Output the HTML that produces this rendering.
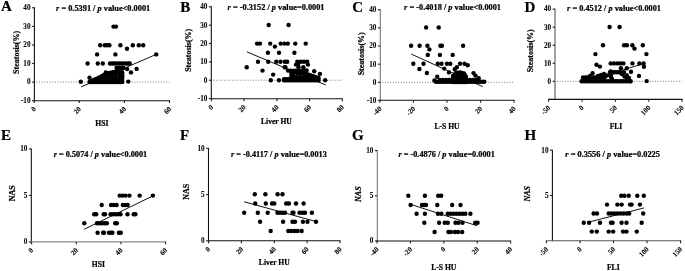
<!DOCTYPE html>
<html><head><meta charset="utf-8"><style>
html,body{margin:0;padding:0;background:#fff;width:685px;height:271px;overflow:hidden}
svg{display:block;will-change:transform;filter:blur(0.3px)}
text{font-family:"Liberation Serif", serif;fill:#000;stroke:#000;stroke-width:0.22px}
.tk{fill:#000;stroke-width:0.08px}
.ax{stroke:#222;stroke-width:1.1}
.axg{stroke:#888;stroke-width:1.1}
.dot{stroke:#777;stroke-width:1;stroke-dasharray:1 1.65}
.rl{stroke:#111;stroke-width:1}
circle{fill:#000}
</style></head><body>
<svg width="685" height="271" viewBox="0 0 685 271">
<text x="1.0" y="11.2" font-size="15.0" font-weight="bold">A</text>
<line x1="34.4" y1="7.3" x2="34.4" y2="101.2" stroke="#111" stroke-width="1.1"/>
<line x1="32.0" y1="100.7" x2="34.4" y2="100.7" stroke="#222" stroke-width="1.1"/>
<text x="30.5" y="103.0" font-size="7.2" text-anchor="end" font-weight="bold" class="tk">-10</text>
<line x1="32.0" y1="82.1" x2="34.4" y2="82.1" stroke="#222" stroke-width="1.1"/>
<text x="30.5" y="84.4" font-size="7.2" text-anchor="end" font-weight="bold" class="tk">0</text>
<line x1="32.0" y1="63.5" x2="34.4" y2="63.5" stroke="#222" stroke-width="1.1"/>
<text x="30.5" y="65.8" font-size="7.2" text-anchor="end" font-weight="bold" class="tk">10</text>
<line x1="32.0" y1="45.0" x2="34.4" y2="45.0" stroke="#222" stroke-width="1.1"/>
<text x="30.5" y="47.3" font-size="7.2" text-anchor="end" font-weight="bold" class="tk">20</text>
<line x1="32.0" y1="26.4" x2="34.4" y2="26.4" stroke="#222" stroke-width="1.1"/>
<text x="30.5" y="28.7" font-size="7.2" text-anchor="end" font-weight="bold" class="tk">30</text>
<line x1="32.0" y1="7.8" x2="34.4" y2="7.8" stroke="#222" stroke-width="1.1"/>
<text x="30.5" y="10.1" font-size="7.2" text-anchor="end" font-weight="bold" class="tk">40</text>
<line x1="33.7" y1="100.7" x2="170.0" y2="100.7" stroke="#111" stroke-width="1.1"/>
<line x1="34.2" y1="100.7" x2="34.2" y2="103.1" class="ax"/>
<text transform="translate(36.5,109.5) rotate(-45)" font-size="7.2" text-anchor="end" font-weight="bold" class="tk">0</text>
<line x1="79.3" y1="100.7" x2="79.3" y2="103.1" class="ax"/>
<text transform="translate(81.6,109.5) rotate(-45)" font-size="7.2" text-anchor="end" font-weight="bold" class="tk">20</text>
<line x1="124.4" y1="100.7" x2="124.4" y2="103.1" class="ax"/>
<text transform="translate(126.7,109.5) rotate(-45)" font-size="7.2" text-anchor="end" font-weight="bold" class="tk">40</text>
<line x1="169.5" y1="100.7" x2="169.5" y2="103.1" class="ax"/>
<text transform="translate(171.8,109.5) rotate(-45)" font-size="7.2" text-anchor="end" font-weight="bold" class="tk">60</text>
<line x1="36.4" y1="82.1" x2="169.5" y2="82.1" class="dot"/>
<text x="56.1" y="10.5" font-size="7.4" font-weight="bold" textLength="94.1" lengthAdjust="spacingAndGlyphs"><tspan font-style="italic">r</tspan> = 0.5391 / <tspan font-style="italic">p</tspan> value&lt;0.0001</text>
<text x="101.8" y="125.7" font-size="7.6" font-weight="bold" text-anchor="middle">HSI</text>
<text transform="translate(18.9,52.4) rotate(-90)" font-size="8.0" font-weight="bold" text-anchor="middle">Steatosis(%)</text>
<line x1="81.1" y1="86.9" x2="156.2" y2="54.4" class="rl"/>
<circle cx="113.5" cy="26.6" r="2.2"/>
<circle cx="116.0" cy="26.6" r="2.2"/>
<circle cx="100.2" cy="45.2" r="2.2"/>
<circle cx="104.7" cy="45.2" r="2.2"/>
<circle cx="107.0" cy="45.2" r="2.2"/>
<circle cx="109.4" cy="45.2" r="2.2"/>
<circle cx="120.4" cy="45.2" r="2.2"/>
<circle cx="132.8" cy="45.2" r="2.2"/>
<circle cx="138.8" cy="45.2" r="2.2"/>
<circle cx="143.2" cy="45.2" r="2.2"/>
<circle cx="127.0" cy="48.7" r="2.2"/>
<circle cx="97.1" cy="54.4" r="2.2"/>
<circle cx="115.4" cy="54.4" r="2.2"/>
<circle cx="156.2" cy="54.4" r="2.2"/>
<circle cx="87.6" cy="63.5" r="2.2"/>
<circle cx="97.8" cy="63.5" r="2.2"/>
<circle cx="102.8" cy="63.5" r="2.2"/>
<circle cx="110.0" cy="63.5" r="2.2"/>
<circle cx="112.3" cy="63.5" r="2.2"/>
<circle cx="114.6" cy="63.5" r="2.2"/>
<circle cx="116.9" cy="63.5" r="2.2"/>
<circle cx="119.2" cy="63.5" r="2.2"/>
<circle cx="121.5" cy="63.5" r="2.2"/>
<circle cx="123.8" cy="63.5" r="2.2"/>
<circle cx="126.1" cy="63.5" r="2.2"/>
<circle cx="128.4" cy="63.5" r="2.2"/>
<circle cx="129.7" cy="63.5" r="2.2"/>
<circle cx="127.2" cy="69.1" r="2.2"/>
<circle cx="136.6" cy="68.9" r="2.2"/>
<circle cx="131.0" cy="72.4" r="2.2"/>
<circle cx="105.8" cy="72.4" r="2.2"/>
<circle cx="89.5" cy="77.8" r="2.2"/>
<circle cx="80.8" cy="81.8" r="2.2"/>
<circle cx="128.3" cy="81.6" r="2.2"/>
<circle cx="115.7" cy="71.9" r="2.2"/>
<circle cx="119.4" cy="71.8" r="2.2"/>
<circle cx="106.0" cy="75.4" r="2.2"/>
<circle cx="108.8" cy="75.6" r="2.2"/>
<circle cx="112.0" cy="75.5" r="2.2"/>
<circle cx="115.4" cy="75.1" r="2.2"/>
<circle cx="119.1" cy="76.0" r="2.2"/>
<circle cx="98.9" cy="78.6" r="2.2"/>
<circle cx="102.9" cy="79.4" r="2.2"/>
<circle cx="106.1" cy="78.8" r="2.2"/>
<circle cx="109.9" cy="78.4" r="2.2"/>
<circle cx="113.0" cy="78.6" r="2.2"/>
<circle cx="115.5" cy="78.4" r="2.2"/>
<circle cx="119.0" cy="79.3" r="2.2"/>
<circle cx="89.5" cy="82.0" r="2.2"/>
<circle cx="91.3" cy="81.2" r="2.2"/>
<circle cx="93.2" cy="80.3" r="2.2"/>
<circle cx="95.0" cy="79.5" r="2.2"/>
<circle cx="96.8" cy="78.7" r="2.2"/>
<circle cx="98.7" cy="77.8" r="2.2"/>
<circle cx="100.5" cy="77.0" r="2.2"/>
<circle cx="102.5" cy="75.8" r="2.2"/>
<circle cx="104.5" cy="74.7" r="2.2"/>
<circle cx="106.5" cy="73.5" r="2.2"/>
<circle cx="108.7" cy="73.1" r="2.2"/>
<circle cx="110.8" cy="72.7" r="2.2"/>
<circle cx="113.0" cy="72.3" r="2.2"/>
<circle cx="114.8" cy="72.3" r="2.2"/>
<circle cx="116.7" cy="72.3" r="2.2"/>
<circle cx="118.5" cy="72.3" r="2.2"/>
<circle cx="120.4" cy="72.3" r="2.2"/>
<circle cx="122.2" cy="72.3" r="2.2"/>
<circle cx="122.2" cy="74.2" r="2.2"/>
<circle cx="122.2" cy="76.2" r="2.2"/>
<circle cx="122.2" cy="78.1" r="2.2"/>
<circle cx="122.2" cy="80.1" r="2.2"/>
<circle cx="122.2" cy="82.0" r="2.2"/>
<circle cx="120.4" cy="82.0" r="2.2"/>
<circle cx="118.6" cy="82.0" r="2.2"/>
<circle cx="116.8" cy="82.0" r="2.2"/>
<circle cx="114.9" cy="82.0" r="2.2"/>
<circle cx="113.1" cy="82.0" r="2.2"/>
<circle cx="111.3" cy="82.0" r="2.2"/>
<circle cx="109.5" cy="82.0" r="2.2"/>
<circle cx="107.7" cy="82.0" r="2.2"/>
<circle cx="105.8" cy="82.0" r="2.2"/>
<circle cx="104.0" cy="82.0" r="2.2"/>
<circle cx="102.2" cy="82.0" r="2.2"/>
<circle cx="100.4" cy="82.0" r="2.2"/>
<circle cx="98.6" cy="82.0" r="2.2"/>
<circle cx="96.8" cy="82.0" r="2.2"/>
<circle cx="95.0" cy="82.0" r="2.2"/>
<circle cx="93.1" cy="82.0" r="2.2"/>
<circle cx="91.3" cy="82.0" r="2.2"/>
<circle cx="116.5" cy="68.0" r="2.2"/>
<circle cx="118.8" cy="68.0" r="2.2"/>
<circle cx="121.1" cy="68.0" r="2.2"/>
<circle cx="123.4" cy="68.0" r="2.2"/>
<text x="180.2" y="11.8" font-size="15.0" font-weight="bold">B</text>
<line x1="211.3" y1="6.3" x2="211.3" y2="99.3" stroke="#111" stroke-width="1.1"/>
<line x1="208.9" y1="98.6" x2="211.3" y2="98.6" stroke="#222" stroke-width="1.1"/>
<text x="207.4" y="100.9" font-size="7.2" text-anchor="end" font-weight="bold" class="tk">-10</text>
<line x1="208.9" y1="80.2" x2="211.3" y2="80.2" stroke="#222" stroke-width="1.1"/>
<text x="207.4" y="82.5" font-size="7.2" text-anchor="end" font-weight="bold" class="tk">0</text>
<line x1="208.9" y1="61.9" x2="211.3" y2="61.9" stroke="#222" stroke-width="1.1"/>
<text x="207.4" y="64.2" font-size="7.2" text-anchor="end" font-weight="bold" class="tk">10</text>
<line x1="208.9" y1="43.5" x2="211.3" y2="43.5" stroke="#222" stroke-width="1.1"/>
<text x="207.4" y="45.8" font-size="7.2" text-anchor="end" font-weight="bold" class="tk">20</text>
<line x1="208.9" y1="25.2" x2="211.3" y2="25.2" stroke="#222" stroke-width="1.1"/>
<text x="207.4" y="27.5" font-size="7.2" text-anchor="end" font-weight="bold" class="tk">30</text>
<line x1="208.9" y1="6.8" x2="211.3" y2="6.8" stroke="#222" stroke-width="1.1"/>
<text x="207.4" y="9.1" font-size="7.2" text-anchor="end" font-weight="bold" class="tk">40</text>
<line x1="210.8" y1="98.8" x2="342.8" y2="98.8" stroke="#111" stroke-width="1.1"/>
<line x1="211.4" y1="98.8" x2="211.4" y2="101.2" class="ax"/>
<text transform="translate(213.7,107.6) rotate(-45)" font-size="7.2" text-anchor="end" font-weight="bold" class="tk">0</text>
<line x1="244.1" y1="98.8" x2="244.1" y2="101.2" class="ax"/>
<text transform="translate(246.4,107.6) rotate(-45)" font-size="7.2" text-anchor="end" font-weight="bold" class="tk">20</text>
<line x1="276.9" y1="98.8" x2="276.9" y2="101.2" class="ax"/>
<text transform="translate(279.2,107.6) rotate(-45)" font-size="7.2" text-anchor="end" font-weight="bold" class="tk">40</text>
<line x1="309.6" y1="98.8" x2="309.6" y2="101.2" class="ax"/>
<text transform="translate(311.9,107.6) rotate(-45)" font-size="7.2" text-anchor="end" font-weight="bold" class="tk">60</text>
<line x1="342.3" y1="98.8" x2="342.3" y2="101.2" class="ax"/>
<text transform="translate(344.6,107.6) rotate(-45)" font-size="7.2" text-anchor="end" font-weight="bold" class="tk">80</text>
<line x1="213.3" y1="80.2" x2="342.3" y2="80.2" class="dot"/>
<text x="227.6" y="10.4" font-size="7.4" font-weight="bold" textLength="96.9" lengthAdjust="spacingAndGlyphs"><tspan font-style="italic">r</tspan> = -0.3152 / <tspan font-style="italic">p</tspan> value=0.0001</text>
<text x="276.4" y="123.5" font-size="7.6" font-weight="bold" text-anchor="middle">Liver HU</text>
<text transform="translate(191.1,50.3) rotate(-90)" font-size="8.0" font-weight="bold" text-anchor="middle">Steatosis(%)</text>
<line x1="246.9" y1="51.9" x2="325.8" y2="85.0" class="rl"/>
<circle cx="268.7" cy="25.0" r="2.2"/>
<circle cx="288.6" cy="25.0" r="2.2"/>
<circle cx="257.1" cy="43.6" r="2.2"/>
<circle cx="259.9" cy="43.6" r="2.2"/>
<circle cx="270.2" cy="43.6" r="2.2"/>
<circle cx="280.7" cy="43.6" r="2.2"/>
<circle cx="284.5" cy="43.6" r="2.2"/>
<circle cx="287.8" cy="43.6" r="2.2"/>
<circle cx="295.3" cy="43.6" r="2.2"/>
<circle cx="305.7" cy="43.6" r="2.2"/>
<circle cx="274.9" cy="46.6" r="2.2"/>
<circle cx="267.9" cy="52.7" r="2.2"/>
<circle cx="279.0" cy="52.7" r="2.2"/>
<circle cx="294.4" cy="52.7" r="2.2"/>
<circle cx="258.0" cy="61.8" r="2.2"/>
<circle cx="268.2" cy="61.8" r="2.2"/>
<circle cx="276.3" cy="61.8" r="2.2"/>
<circle cx="280.5" cy="61.8" r="2.2"/>
<circle cx="284.9" cy="61.8" r="2.2"/>
<circle cx="287.2" cy="61.8" r="2.2"/>
<circle cx="297.3" cy="61.8" r="2.2"/>
<circle cx="300.8" cy="61.8" r="2.2"/>
<circle cx="304.0" cy="61.8" r="2.2"/>
<circle cx="307.2" cy="61.8" r="2.2"/>
<circle cx="296.0" cy="64.6" r="2.2"/>
<circle cx="298.0" cy="64.6" r="2.2"/>
<circle cx="307.9" cy="64.6" r="2.2"/>
<circle cx="246.7" cy="67.2" r="2.2"/>
<circle cx="285.4" cy="67.2" r="2.2"/>
<circle cx="284.7" cy="67.3" r="2.2"/>
<circle cx="298.6" cy="67.3" r="2.2"/>
<circle cx="303.3" cy="67.3" r="2.2"/>
<circle cx="262.5" cy="70.6" r="2.2"/>
<circle cx="288.0" cy="70.6" r="2.2"/>
<circle cx="290.5" cy="70.6" r="2.2"/>
<circle cx="293.5" cy="70.6" r="2.2"/>
<circle cx="296.0" cy="70.6" r="2.2"/>
<circle cx="273.2" cy="74.6" r="2.2"/>
<circle cx="314.2" cy="71.3" r="2.2"/>
<circle cx="319.9" cy="73.9" r="2.2"/>
<circle cx="270.8" cy="80.2" r="2.2"/>
<circle cx="278.9" cy="80.2" r="2.2"/>
<circle cx="325.2" cy="80.2" r="2.2"/>
<circle cx="293.5" cy="73.9" r="2.2"/>
<circle cx="297.4" cy="73.6" r="2.2"/>
<circle cx="300.6" cy="73.3" r="2.2"/>
<circle cx="303.3" cy="73.4" r="2.2"/>
<circle cx="294.1" cy="77.0" r="2.2"/>
<circle cx="297.0" cy="77.2" r="2.2"/>
<circle cx="300.4" cy="76.9" r="2.2"/>
<circle cx="304.2" cy="77.3" r="2.2"/>
<circle cx="306.8" cy="77.2" r="2.2"/>
<circle cx="310.4" cy="77.6" r="2.2"/>
<circle cx="314.0" cy="76.8" r="2.2"/>
<circle cx="284.0" cy="80.2" r="2.2"/>
<circle cx="284.0" cy="79.3" r="2.2"/>
<circle cx="285.9" cy="79.3" r="2.2"/>
<circle cx="287.8" cy="79.3" r="2.2"/>
<circle cx="289.6" cy="79.3" r="2.2"/>
<circle cx="291.5" cy="79.3" r="2.2"/>
<circle cx="291.5" cy="77.5" r="2.2"/>
<circle cx="291.5" cy="75.7" r="2.2"/>
<circle cx="291.5" cy="73.8" r="2.2"/>
<circle cx="291.5" cy="72.0" r="2.2"/>
<circle cx="293.4" cy="71.8" r="2.2"/>
<circle cx="295.3" cy="71.6" r="2.2"/>
<circle cx="297.2" cy="71.4" r="2.2"/>
<circle cx="299.1" cy="71.2" r="2.2"/>
<circle cx="300.9" cy="71.1" r="2.2"/>
<circle cx="302.8" cy="70.9" r="2.2"/>
<circle cx="304.7" cy="70.7" r="2.2"/>
<circle cx="306.6" cy="70.5" r="2.2"/>
<circle cx="306.6" cy="74.0" r="2.2"/>
<circle cx="308.4" cy="74.7" r="2.2"/>
<circle cx="310.2" cy="75.3" r="2.2"/>
<circle cx="312.0" cy="76.0" r="2.2"/>
<circle cx="314.2" cy="76.7" r="2.2"/>
<circle cx="316.4" cy="77.3" r="2.2"/>
<circle cx="318.6" cy="78.0" r="2.2"/>
<circle cx="318.6" cy="80.2" r="2.2"/>
<circle cx="316.8" cy="80.2" r="2.2"/>
<circle cx="315.0" cy="80.2" r="2.2"/>
<circle cx="313.1" cy="80.2" r="2.2"/>
<circle cx="311.3" cy="80.2" r="2.2"/>
<circle cx="309.5" cy="80.2" r="2.2"/>
<circle cx="307.7" cy="80.2" r="2.2"/>
<circle cx="305.9" cy="80.2" r="2.2"/>
<circle cx="304.0" cy="80.2" r="2.2"/>
<circle cx="302.2" cy="80.2" r="2.2"/>
<circle cx="300.4" cy="80.2" r="2.2"/>
<circle cx="298.6" cy="80.2" r="2.2"/>
<circle cx="296.7" cy="80.2" r="2.2"/>
<circle cx="294.9" cy="80.2" r="2.2"/>
<circle cx="293.1" cy="80.2" r="2.2"/>
<circle cx="291.3" cy="80.2" r="2.2"/>
<circle cx="289.5" cy="80.2" r="2.2"/>
<circle cx="287.6" cy="80.2" r="2.2"/>
<circle cx="285.8" cy="80.2" r="2.2"/>
<text x="352.2" y="11.6" font-size="15.0" font-weight="bold">C</text>
<line x1="380.3" y1="9.3" x2="380.3" y2="100.8" stroke="#777" stroke-width="1.1"/>
<line x1="377.9" y1="100.4" x2="380.3" y2="100.4" stroke="#222" stroke-width="1.1"/>
<text x="376.4" y="102.7" font-size="7.2" text-anchor="end" font-weight="bold" class="tk">-10</text>
<line x1="377.9" y1="82.3" x2="380.3" y2="82.3" stroke="#222" stroke-width="1.1"/>
<text x="376.4" y="84.6" font-size="7.2" text-anchor="end" font-weight="bold" class="tk">0</text>
<line x1="377.9" y1="64.2" x2="380.3" y2="64.2" stroke="#222" stroke-width="1.1"/>
<text x="376.4" y="66.5" font-size="7.2" text-anchor="end" font-weight="bold" class="tk">10</text>
<line x1="377.9" y1="46.0" x2="380.3" y2="46.0" stroke="#222" stroke-width="1.1"/>
<text x="376.4" y="48.3" font-size="7.2" text-anchor="end" font-weight="bold" class="tk">20</text>
<line x1="377.9" y1="27.9" x2="380.3" y2="27.9" stroke="#222" stroke-width="1.1"/>
<text x="376.4" y="30.2" font-size="7.2" text-anchor="end" font-weight="bold" class="tk">30</text>
<line x1="377.9" y1="9.8" x2="380.3" y2="9.8" stroke="#222" stroke-width="1.1"/>
<text x="376.4" y="12.1" font-size="7.2" text-anchor="end" font-weight="bold" class="tk">40</text>
<line x1="379.4" y1="100.3" x2="514.6" y2="100.3" stroke="#111" stroke-width="1.1"/>
<line x1="379.9" y1="100.3" x2="379.9" y2="102.7" class="ax"/>
<text transform="translate(382.2,109.1) rotate(-45)" font-size="7.2" text-anchor="end" font-weight="bold" class="tk">-40</text>
<line x1="413.4" y1="100.3" x2="413.4" y2="102.7" class="ax"/>
<text transform="translate(415.8,109.1) rotate(-45)" font-size="7.2" text-anchor="end" font-weight="bold" class="tk">-20</text>
<line x1="447.0" y1="100.3" x2="447.0" y2="102.7" class="ax"/>
<text transform="translate(449.3,109.1) rotate(-45)" font-size="7.2" text-anchor="end" font-weight="bold" class="tk">0</text>
<line x1="480.6" y1="100.3" x2="480.6" y2="102.7" class="ax"/>
<text transform="translate(482.9,109.1) rotate(-45)" font-size="7.2" text-anchor="end" font-weight="bold" class="tk">20</text>
<line x1="514.1" y1="100.3" x2="514.1" y2="102.7" class="ax"/>
<text transform="translate(516.4,109.1) rotate(-45)" font-size="7.2" text-anchor="end" font-weight="bold" class="tk">40</text>
<line x1="382.3" y1="82.3" x2="514.1" y2="82.3" class="dot"/>
<text x="404.1" y="10.4" font-size="7.4" font-weight="bold" textLength="96.9" lengthAdjust="spacingAndGlyphs"><tspan font-style="italic">r</tspan> = -0.4018 / <tspan font-style="italic">p</tspan> value&lt;0.0001</text>
<text x="447.0" y="129.4" font-size="7.6" font-weight="bold" text-anchor="middle">L-S HU</text>
<text transform="translate(364.3,53.8) rotate(-90)" font-size="8.0" font-weight="bold" text-anchor="middle">Steatosis(%)</text>
<line x1="411.3" y1="54.1" x2="482.6" y2="86.6" class="rl"/>
<circle cx="426.1" cy="27.5" r="2.2"/>
<circle cx="438.7" cy="27.5" r="2.2"/>
<circle cx="411.1" cy="45.7" r="2.2"/>
<circle cx="419.6" cy="45.7" r="2.2"/>
<circle cx="427.4" cy="45.7" r="2.2"/>
<circle cx="440.4" cy="45.7" r="2.2"/>
<circle cx="441.9" cy="45.7" r="2.2"/>
<circle cx="463.1" cy="45.7" r="2.2"/>
<circle cx="429.4" cy="49.4" r="2.2"/>
<circle cx="427.8" cy="54.9" r="2.2"/>
<circle cx="439.9" cy="54.9" r="2.2"/>
<circle cx="452.7" cy="54.9" r="2.2"/>
<circle cx="413.3" cy="63.8" r="2.2"/>
<circle cx="423.5" cy="63.8" r="2.2"/>
<circle cx="437.8" cy="63.8" r="2.2"/>
<circle cx="441.5" cy="63.8" r="2.2"/>
<circle cx="447.0" cy="63.8" r="2.2"/>
<circle cx="450.3" cy="63.8" r="2.2"/>
<circle cx="460.0" cy="63.8" r="2.2"/>
<circle cx="464.5" cy="63.8" r="2.2"/>
<circle cx="467.7" cy="65.3" r="2.2"/>
<circle cx="444.3" cy="68.6" r="2.2"/>
<circle cx="419.4" cy="69.0" r="2.2"/>
<circle cx="456.8" cy="67.3" r="2.2"/>
<circle cx="454.8" cy="69.2" r="2.2"/>
<circle cx="426.9" cy="73.0" r="2.2"/>
<circle cx="449.0" cy="72.4" r="2.2"/>
<circle cx="437.2" cy="76.7" r="2.2"/>
<circle cx="434.4" cy="80.5" r="2.2"/>
<circle cx="473.5" cy="73.1" r="2.2"/>
<circle cx="475.5" cy="75.6" r="2.2"/>
<circle cx="478.7" cy="78.2" r="2.2"/>
<circle cx="436.0" cy="81.8" r="2.2"/>
<circle cx="438.3" cy="81.8" r="2.2"/>
<circle cx="440.6" cy="81.8" r="2.2"/>
<circle cx="442.9" cy="81.8" r="2.2"/>
<circle cx="445.2" cy="81.8" r="2.2"/>
<circle cx="447.5" cy="81.8" r="2.2"/>
<circle cx="449.8" cy="81.8" r="2.2"/>
<circle cx="452.1" cy="81.8" r="2.2"/>
<circle cx="454.4" cy="81.8" r="2.2"/>
<circle cx="456.7" cy="81.8" r="2.2"/>
<circle cx="459.0" cy="81.8" r="2.2"/>
<circle cx="461.3" cy="81.8" r="2.2"/>
<circle cx="463.6" cy="81.8" r="2.2"/>
<circle cx="465.9" cy="81.8" r="2.2"/>
<circle cx="468.2" cy="81.8" r="2.2"/>
<circle cx="470.5" cy="81.8" r="2.2"/>
<circle cx="472.8" cy="81.8" r="2.2"/>
<circle cx="475.1" cy="81.8" r="2.2"/>
<circle cx="477.4" cy="81.8" r="2.2"/>
<circle cx="479.7" cy="81.8" r="2.2"/>
<circle cx="482.0" cy="81.8" r="2.2"/>
<circle cx="484.3" cy="81.8" r="2.2"/>
<circle cx="440.0" cy="80.0" r="2.2"/>
<circle cx="443.0" cy="80.0" r="2.2"/>
<circle cx="446.0" cy="80.0" r="2.2"/>
<circle cx="449.0" cy="80.0" r="2.2"/>
<circle cx="452.0" cy="80.0" r="2.2"/>
<circle cx="455.0" cy="80.0" r="2.2"/>
<circle cx="458.0" cy="80.0" r="2.2"/>
<circle cx="461.0" cy="80.0" r="2.2"/>
<circle cx="464.0" cy="80.0" r="2.2"/>
<circle cx="467.0" cy="80.0" r="2.2"/>
<circle cx="470.0" cy="80.0" r="2.2"/>
<circle cx="473.0" cy="80.0" r="2.2"/>
<circle cx="476.0" cy="80.0" r="2.2"/>
<circle cx="478.0" cy="80.0" r="2.2"/>
<circle cx="455.2" cy="74.7" r="2.2"/>
<circle cx="457.4" cy="74.7" r="2.2"/>
<circle cx="459.6" cy="74.7" r="2.2"/>
<circle cx="461.8" cy="74.7" r="2.2"/>
<circle cx="464.0" cy="74.7" r="2.2"/>
<circle cx="453.0" cy="76.9" r="2.2"/>
<circle cx="455.2" cy="76.9" r="2.2"/>
<circle cx="457.4" cy="76.9" r="2.2"/>
<circle cx="459.6" cy="76.9" r="2.2"/>
<circle cx="461.8" cy="76.9" r="2.2"/>
<circle cx="464.0" cy="76.9" r="2.2"/>
<circle cx="453.0" cy="79.1" r="2.2"/>
<circle cx="455.2" cy="79.1" r="2.2"/>
<circle cx="457.4" cy="79.1" r="2.2"/>
<circle cx="459.6" cy="79.1" r="2.2"/>
<circle cx="461.8" cy="79.1" r="2.2"/>
<circle cx="464.0" cy="79.1" r="2.2"/>
<circle cx="453.0" cy="81.3" r="2.2"/>
<circle cx="455.2" cy="81.3" r="2.2"/>
<circle cx="457.4" cy="81.3" r="2.2"/>
<circle cx="459.6" cy="81.3" r="2.2"/>
<circle cx="461.8" cy="81.3" r="2.2"/>
<circle cx="464.0" cy="81.3" r="2.2"/>
<circle cx="453.0" cy="82.0" r="2.2"/>
<circle cx="453.0" cy="80.0" r="2.2"/>
<circle cx="453.0" cy="78.0" r="2.2"/>
<circle cx="453.0" cy="76.0" r="2.2"/>
<circle cx="454.5" cy="74.5" r="2.2"/>
<circle cx="456.0" cy="73.0" r="2.2"/>
<circle cx="458.0" cy="72.8" r="2.2"/>
<circle cx="460.0" cy="72.5" r="2.2"/>
<circle cx="462.0" cy="73.0" r="2.2"/>
<circle cx="464.0" cy="73.5" r="2.2"/>
<circle cx="465.0" cy="75.2" r="2.2"/>
<circle cx="466.0" cy="77.0" r="2.2"/>
<circle cx="466.0" cy="79.5" r="2.2"/>
<circle cx="466.0" cy="82.0" r="2.2"/>
<circle cx="464.1" cy="82.0" r="2.2"/>
<circle cx="462.3" cy="82.0" r="2.2"/>
<circle cx="460.4" cy="82.0" r="2.2"/>
<circle cx="458.6" cy="82.0" r="2.2"/>
<circle cx="456.7" cy="82.0" r="2.2"/>
<circle cx="454.9" cy="82.0" r="2.2"/>
<text x="524.4" y="11.6" font-size="15.0" font-weight="bold">D</text>
<line x1="555.0" y1="8.6" x2="555.0" y2="99.9" stroke="#555" stroke-width="1.1"/>
<line x1="552.6" y1="81.3" x2="555.0" y2="81.3" stroke="#222" stroke-width="1.1"/>
<text x="551.1" y="83.6" font-size="7.2" text-anchor="end" font-weight="bold" class="tk">0</text>
<line x1="552.6" y1="63.3" x2="555.0" y2="63.3" stroke="#222" stroke-width="1.1"/>
<text x="551.1" y="65.6" font-size="7.2" text-anchor="end" font-weight="bold" class="tk">10</text>
<line x1="552.6" y1="45.2" x2="555.0" y2="45.2" stroke="#222" stroke-width="1.1"/>
<text x="551.1" y="47.5" font-size="7.2" text-anchor="end" font-weight="bold" class="tk">20</text>
<line x1="552.6" y1="27.2" x2="555.0" y2="27.2" stroke="#222" stroke-width="1.1"/>
<text x="551.1" y="29.5" font-size="7.2" text-anchor="end" font-weight="bold" class="tk">30</text>
<line x1="552.6" y1="9.1" x2="555.0" y2="9.1" stroke="#222" stroke-width="1.1"/>
<text x="551.1" y="11.4" font-size="7.2" text-anchor="end" font-weight="bold" class="tk">40</text>
<line x1="548.1" y1="99.4" x2="682.6" y2="99.4" stroke="#111" stroke-width="1.1"/>
<line x1="548.6" y1="99.4" x2="548.6" y2="101.8" class="ax"/>
<text transform="translate(550.9,108.2) rotate(-45)" font-size="7.2" text-anchor="end" font-weight="bold" class="tk">-50</text>
<line x1="582.0" y1="99.4" x2="582.0" y2="101.8" class="ax"/>
<text transform="translate(584.3,108.2) rotate(-45)" font-size="7.2" text-anchor="end" font-weight="bold" class="tk">0</text>
<line x1="615.4" y1="99.4" x2="615.4" y2="101.8" class="ax"/>
<text transform="translate(617.6,108.2) rotate(-45)" font-size="7.2" text-anchor="end" font-weight="bold" class="tk">50</text>
<line x1="648.7" y1="99.4" x2="648.7" y2="101.8" class="ax"/>
<text transform="translate(651.0,108.2) rotate(-45)" font-size="7.2" text-anchor="end" font-weight="bold" class="tk">100</text>
<line x1="682.1" y1="99.4" x2="682.1" y2="101.8" class="ax"/>
<text transform="translate(684.4,108.2) rotate(-45)" font-size="7.2" text-anchor="end" font-weight="bold" class="tk">150</text>
<line x1="557.0" y1="81.3" x2="682.1" y2="81.3" class="dot"/>
<text x="567.1" y="10.6" font-size="7.4" font-weight="bold" textLength="93.9" lengthAdjust="spacingAndGlyphs"><tspan font-style="italic">r</tspan> = 0.4512 / <tspan font-style="italic">p</tspan> value&lt;0.0001</text>
<text x="616.0" y="128.5" font-size="7.6" font-weight="bold" text-anchor="middle">FLI</text>
<text transform="translate(532.6,50.8) rotate(-90)" font-size="8.0" font-weight="bold" text-anchor="middle">Steatosis(%)</text>
<line x1="595.4" y1="78.5" x2="644.0" y2="63.5" class="rl"/>
<circle cx="609.6" cy="27.0" r="2.2"/>
<circle cx="619.6" cy="27.0" r="2.2"/>
<circle cx="603.0" cy="45.2" r="2.2"/>
<circle cx="624.1" cy="45.2" r="2.2"/>
<circle cx="626.9" cy="45.2" r="2.2"/>
<circle cx="632.4" cy="45.2" r="2.2"/>
<circle cx="642.8" cy="45.2" r="2.2"/>
<circle cx="634.5" cy="48.6" r="2.2"/>
<circle cx="595.4" cy="54.1" r="2.2"/>
<circle cx="646.4" cy="54.1" r="2.2"/>
<circle cx="610.7" cy="63.4" r="2.2"/>
<circle cx="614.0" cy="63.4" r="2.2"/>
<circle cx="617.3" cy="63.4" r="2.2"/>
<circle cx="620.3" cy="63.4" r="2.2"/>
<circle cx="623.4" cy="63.4" r="2.2"/>
<circle cx="632.4" cy="63.4" r="2.2"/>
<circle cx="639.4" cy="63.4" r="2.2"/>
<circle cx="643.6" cy="63.4" r="2.2"/>
<circle cx="596.5" cy="64.7" r="2.2"/>
<circle cx="599.9" cy="66.6" r="2.2"/>
<circle cx="643.9" cy="66.8" r="2.2"/>
<circle cx="620.9" cy="68.2" r="2.2"/>
<circle cx="626.8" cy="68.2" r="2.2"/>
<circle cx="631.0" cy="71.7" r="2.2"/>
<circle cx="624.0" cy="72.1" r="2.2"/>
<circle cx="626.8" cy="75.2" r="2.2"/>
<circle cx="628.9" cy="78.0" r="2.2"/>
<circle cx="639.0" cy="75.9" r="2.2"/>
<circle cx="646.7" cy="81.1" r="2.2"/>
<circle cx="592.6" cy="73.2" r="2.2"/>
<circle cx="610.8" cy="71.4" r="2.2"/>
<circle cx="581.6" cy="81.2" r="2.2"/>
<circle cx="583.8" cy="81.2" r="2.2"/>
<circle cx="586.0" cy="81.2" r="2.2"/>
<circle cx="588.2" cy="81.2" r="2.2"/>
<circle cx="590.4" cy="81.2" r="2.2"/>
<circle cx="592.6" cy="81.2" r="2.2"/>
<circle cx="594.8" cy="81.2" r="2.2"/>
<circle cx="597.0" cy="81.2" r="2.2"/>
<circle cx="599.2" cy="81.2" r="2.2"/>
<circle cx="601.4" cy="81.2" r="2.2"/>
<circle cx="603.6" cy="81.2" r="2.2"/>
<circle cx="605.8" cy="81.2" r="2.2"/>
<circle cx="608.0" cy="81.2" r="2.2"/>
<circle cx="610.2" cy="81.2" r="2.2"/>
<circle cx="612.4" cy="81.2" r="2.2"/>
<circle cx="614.6" cy="81.2" r="2.2"/>
<circle cx="616.8" cy="81.2" r="2.2"/>
<circle cx="619.0" cy="81.2" r="2.2"/>
<circle cx="621.2" cy="81.2" r="2.2"/>
<circle cx="623.4" cy="81.2" r="2.2"/>
<circle cx="625.6" cy="81.2" r="2.2"/>
<circle cx="627.8" cy="81.2" r="2.2"/>
<circle cx="630.0" cy="81.2" r="2.2"/>
<circle cx="630.7" cy="81.2" r="2.2"/>
<circle cx="583.0" cy="77.5" r="2.2"/>
<circle cx="585.4" cy="77.5" r="2.2"/>
<circle cx="587.8" cy="77.5" r="2.2"/>
<circle cx="590.2" cy="77.5" r="2.2"/>
<circle cx="592.6" cy="77.5" r="2.2"/>
<circle cx="595.0" cy="77.5" r="2.2"/>
<circle cx="597.4" cy="77.5" r="2.2"/>
<circle cx="599.8" cy="77.5" r="2.2"/>
<circle cx="602.2" cy="77.5" r="2.2"/>
<circle cx="604.6" cy="77.5" r="2.2"/>
<circle cx="610.0" cy="72.3" r="2.2"/>
<circle cx="612.3" cy="72.3" r="2.2"/>
<circle cx="614.6" cy="72.3" r="2.2"/>
<circle cx="616.9" cy="72.3" r="2.2"/>
<circle cx="619.2" cy="72.3" r="2.2"/>
<circle cx="620.0" cy="72.3" r="2.2"/>
<circle cx="611.0" cy="74.5" r="2.2"/>
<circle cx="611.0" cy="77.0" r="2.2"/>
<circle cx="612.0" cy="79.0" r="2.2"/>
<circle cx="622.0" cy="74.0" r="2.2"/>
<circle cx="624.5" cy="76.5" r="2.2"/>
<circle cx="627.0" cy="79.0" r="2.2"/>
<circle cx="586.0" cy="78.0" r="2.2"/>
<circle cx="590.0" cy="76.0" r="2.2"/>
<circle cx="598.0" cy="76.0" r="2.2"/>
<circle cx="601.0" cy="75.0" r="2.2"/>
<circle cx="604.0" cy="74.0" r="2.2"/>
<circle cx="607.0" cy="75.5" r="2.2"/>
<text x="1.0" y="140.0" font-size="15.0" font-weight="bold">E</text>
<line x1="31.3" y1="148.4" x2="31.3" y2="244.1" stroke="#111" stroke-width="1.1"/>
<line x1="28.9" y1="241.9" x2="31.3" y2="241.9" stroke="#222" stroke-width="1.1"/>
<text x="27.4" y="244.2" font-size="7.2" text-anchor="end" font-weight="bold" class="tk">0</text>
<line x1="28.9" y1="195.4" x2="31.3" y2="195.4" stroke="#222" stroke-width="1.1"/>
<text x="27.4" y="197.7" font-size="7.2" text-anchor="end" font-weight="bold" class="tk">5</text>
<line x1="28.9" y1="148.9" x2="31.3" y2="148.9" stroke="#222" stroke-width="1.1"/>
<text x="27.4" y="151.2" font-size="7.2" text-anchor="end" font-weight="bold" class="tk">10</text>
<line x1="30.8" y1="241.9" x2="166.1" y2="241.9" stroke="#888" stroke-width="1.1"/>
<line x1="31.6" y1="241.9" x2="31.6" y2="244.3" class="ax"/>
<text transform="translate(33.9,250.7) rotate(-45)" font-size="7.2" text-anchor="end" font-weight="bold" class="tk">0</text>
<line x1="76.3" y1="241.9" x2="76.3" y2="244.3" class="ax"/>
<text transform="translate(78.6,250.7) rotate(-45)" font-size="7.2" text-anchor="end" font-weight="bold" class="tk">20</text>
<line x1="120.9" y1="241.9" x2="120.9" y2="244.3" class="ax"/>
<text transform="translate(123.2,250.7) rotate(-45)" font-size="7.2" text-anchor="end" font-weight="bold" class="tk">40</text>
<line x1="165.6" y1="241.9" x2="165.6" y2="244.3" class="ax"/>
<text transform="translate(167.9,250.7) rotate(-45)" font-size="7.2" text-anchor="end" font-weight="bold" class="tk">60</text>
<text x="53.7" y="156.5" font-size="7.4" font-weight="bold" textLength="93.5" lengthAdjust="spacingAndGlyphs"><tspan font-style="italic">r</tspan> = 0.5074 / <tspan font-style="italic">p</tspan> value&lt;0.0001</text>
<text x="98.4" y="267.3" font-size="7.6" font-weight="bold" text-anchor="middle">HSI</text>
<text transform="translate(15.0,193.3) rotate(-90)" font-size="8.0" font-weight="bold" text-anchor="middle">NAS</text>
<line x1="84.1" y1="229.3" x2="152.9" y2="195.9" class="rl"/>
<circle cx="119.7" cy="195.6" r="2.2"/>
<circle cx="122.5" cy="195.6" r="2.2"/>
<circle cx="125.5" cy="195.6" r="2.2"/>
<circle cx="129.4" cy="195.6" r="2.2"/>
<circle cx="139.6" cy="195.6" r="2.2"/>
<circle cx="152.9" cy="195.6" r="2.2"/>
<circle cx="101.7" cy="205.0" r="2.2"/>
<circle cx="111.0" cy="205.0" r="2.2"/>
<circle cx="113.6" cy="205.0" r="2.2"/>
<circle cx="116.6" cy="205.0" r="2.2"/>
<circle cx="122.8" cy="205.0" r="2.2"/>
<circle cx="125.2" cy="205.0" r="2.2"/>
<circle cx="127.6" cy="205.0" r="2.2"/>
<circle cx="94.2" cy="214.2" r="2.2"/>
<circle cx="96.2" cy="214.2" r="2.2"/>
<circle cx="103.7" cy="214.2" r="2.2"/>
<circle cx="105.0" cy="214.2" r="2.2"/>
<circle cx="110.6" cy="214.2" r="2.2"/>
<circle cx="113.0" cy="214.2" r="2.2"/>
<circle cx="115.5" cy="214.2" r="2.2"/>
<circle cx="118.0" cy="214.2" r="2.2"/>
<circle cx="120.5" cy="214.2" r="2.2"/>
<circle cx="127.5" cy="214.2" r="2.2"/>
<circle cx="133.7" cy="214.2" r="2.2"/>
<circle cx="135.4" cy="214.2" r="2.2"/>
<circle cx="84.3" cy="223.2" r="2.2"/>
<circle cx="97.0" cy="223.2" r="2.2"/>
<circle cx="99.5" cy="223.2" r="2.2"/>
<circle cx="102.0" cy="223.2" r="2.2"/>
<circle cx="104.5" cy="223.2" r="2.2"/>
<circle cx="106.8" cy="223.2" r="2.2"/>
<circle cx="115.2" cy="223.2" r="2.2"/>
<circle cx="116.8" cy="223.2" r="2.2"/>
<circle cx="97.6" cy="232.8" r="2.2"/>
<circle cx="103.1" cy="232.8" r="2.2"/>
<circle cx="104.0" cy="232.8" r="2.2"/>
<circle cx="109.0" cy="232.8" r="2.2"/>
<circle cx="111.0" cy="232.8" r="2.2"/>
<circle cx="112.4" cy="232.8" r="2.2"/>
<circle cx="118.9" cy="232.8" r="2.2"/>
<circle cx="120.8" cy="232.8" r="2.2"/>
<text x="180.0" y="140.3" font-size="15.0" font-weight="bold">F</text>
<line x1="208.5" y1="147.8" x2="208.5" y2="243.0" stroke="#111" stroke-width="1.1"/>
<line x1="206.1" y1="240.8" x2="208.5" y2="240.8" stroke="#222" stroke-width="1.1"/>
<text x="204.6" y="243.1" font-size="7.2" text-anchor="end" font-weight="bold" class="tk">0</text>
<line x1="206.1" y1="194.6" x2="208.5" y2="194.6" stroke="#222" stroke-width="1.1"/>
<text x="204.6" y="196.9" font-size="7.2" text-anchor="end" font-weight="bold" class="tk">5</text>
<line x1="206.1" y1="148.3" x2="208.5" y2="148.3" stroke="#222" stroke-width="1.1"/>
<text x="204.6" y="150.6" font-size="7.2" text-anchor="end" font-weight="bold" class="tk">10</text>
<line x1="208.0" y1="240.8" x2="340.5" y2="240.8" stroke="#111" stroke-width="1.1"/>
<line x1="208.6" y1="240.8" x2="208.6" y2="243.2" class="ax"/>
<text transform="translate(210.9,249.6) rotate(-45)" font-size="7.2" text-anchor="end" font-weight="bold" class="tk">0</text>
<line x1="241.4" y1="240.8" x2="241.4" y2="243.2" class="ax"/>
<text transform="translate(243.8,249.6) rotate(-45)" font-size="7.2" text-anchor="end" font-weight="bold" class="tk">20</text>
<line x1="274.3" y1="240.8" x2="274.3" y2="243.2" class="ax"/>
<text transform="translate(276.6,249.6) rotate(-45)" font-size="7.2" text-anchor="end" font-weight="bold" class="tk">40</text>
<line x1="307.1" y1="240.8" x2="307.1" y2="243.2" class="ax"/>
<text transform="translate(309.4,249.6) rotate(-45)" font-size="7.2" text-anchor="end" font-weight="bold" class="tk">60</text>
<line x1="340.0" y1="240.8" x2="340.0" y2="243.2" class="ax"/>
<text transform="translate(342.3,249.6) rotate(-45)" font-size="7.2" text-anchor="end" font-weight="bold" class="tk">80</text>
<text x="230.9" y="156.6" font-size="7.4" font-weight="bold" textLength="96.0" lengthAdjust="spacingAndGlyphs"><tspan font-style="italic">r</tspan> = -0.4117 / <tspan font-style="italic">p</tspan> value=0.0013</text>
<text x="274.3" y="264.6" font-size="7.6" font-weight="bold" text-anchor="middle">Liver HU</text>
<text transform="translate(188.8,191.8) rotate(-90)" font-size="8.0" font-weight="bold" text-anchor="middle">NAS</text>
<line x1="244.2" y1="201.8" x2="316.3" y2="221.6" class="rl"/>
<circle cx="254.8" cy="194.3" r="2.2"/>
<circle cx="265.4" cy="194.3" r="2.2"/>
<circle cx="277.6" cy="194.3" r="2.2"/>
<circle cx="282.5" cy="194.3" r="2.2"/>
<circle cx="255.2" cy="203.5" r="2.2"/>
<circle cx="265.8" cy="203.5" r="2.2"/>
<circle cx="272.0" cy="203.5" r="2.2"/>
<circle cx="274.3" cy="203.5" r="2.2"/>
<circle cx="286.2" cy="203.5" r="2.2"/>
<circle cx="288.9" cy="203.5" r="2.2"/>
<circle cx="296.0" cy="203.5" r="2.2"/>
<circle cx="303.6" cy="203.5" r="2.2"/>
<circle cx="244.2" cy="212.7" r="2.2"/>
<circle cx="257.8" cy="212.7" r="2.2"/>
<circle cx="267.7" cy="212.7" r="2.2"/>
<circle cx="277.5" cy="212.7" r="2.2"/>
<circle cx="280.0" cy="212.7" r="2.2"/>
<circle cx="282.5" cy="212.7" r="2.2"/>
<circle cx="285.0" cy="212.7" r="2.2"/>
<circle cx="292.5" cy="212.7" r="2.2"/>
<circle cx="293.5" cy="212.7" r="2.2"/>
<circle cx="299.5" cy="212.7" r="2.2"/>
<circle cx="302.5" cy="212.7" r="2.2"/>
<circle cx="305.0" cy="212.7" r="2.2"/>
<circle cx="311.9" cy="212.7" r="2.2"/>
<circle cx="260.1" cy="221.8" r="2.2"/>
<circle cx="283.1" cy="221.8" r="2.2"/>
<circle cx="292.5" cy="221.8" r="2.2"/>
<circle cx="295.0" cy="221.8" r="2.2"/>
<circle cx="303.0" cy="221.8" r="2.2"/>
<circle cx="307.5" cy="221.8" r="2.2"/>
<circle cx="316.0" cy="221.8" r="2.2"/>
<circle cx="270.7" cy="231.0" r="2.2"/>
<circle cx="288.3" cy="231.0" r="2.2"/>
<circle cx="291.3" cy="231.0" r="2.2"/>
<circle cx="294.6" cy="231.0" r="2.2"/>
<circle cx="297.6" cy="231.0" r="2.2"/>
<circle cx="301.6" cy="231.0" r="2.2"/>
<text x="352.0" y="140.3" font-size="15.0" font-weight="bold">G</text>
<line x1="377.3" y1="150.1" x2="377.3" y2="241.5" stroke="#777" stroke-width="1.1"/>
<line x1="374.9" y1="241.0" x2="377.3" y2="241.0" stroke="#222" stroke-width="1.1"/>
<text x="373.4" y="243.3" font-size="7.2" text-anchor="end" font-weight="bold" class="tk">0</text>
<line x1="374.9" y1="195.8" x2="377.3" y2="195.8" stroke="#222" stroke-width="1.1"/>
<text x="373.4" y="198.1" font-size="7.2" text-anchor="end" font-weight="bold" class="tk">5</text>
<line x1="374.9" y1="150.6" x2="377.3" y2="150.6" stroke="#222" stroke-width="1.1"/>
<text x="373.4" y="152.9" font-size="7.2" text-anchor="end" font-weight="bold" class="tk">10</text>
<line x1="376.5" y1="241.0" x2="511.1" y2="241.0" stroke="#111" stroke-width="1.1"/>
<line x1="377.0" y1="241.0" x2="377.0" y2="243.4" class="ax"/>
<text transform="translate(379.3,249.8) rotate(-45)" font-size="7.2" text-anchor="end" font-weight="bold" class="tk">-40</text>
<line x1="410.4" y1="241.0" x2="410.4" y2="243.4" class="ax"/>
<text transform="translate(412.7,249.8) rotate(-45)" font-size="7.2" text-anchor="end" font-weight="bold" class="tk">-20</text>
<line x1="443.8" y1="241.0" x2="443.8" y2="243.4" class="ax"/>
<text transform="translate(446.1,249.8) rotate(-45)" font-size="7.2" text-anchor="end" font-weight="bold" class="tk">0</text>
<line x1="477.2" y1="241.0" x2="477.2" y2="243.4" class="ax"/>
<text transform="translate(479.5,249.8) rotate(-45)" font-size="7.2" text-anchor="end" font-weight="bold" class="tk">20</text>
<line x1="510.6" y1="241.0" x2="510.6" y2="243.4" class="ax"/>
<text transform="translate(512.9,249.8) rotate(-45)" font-size="7.2" text-anchor="end" font-weight="bold" class="tk">40</text>
<text x="398.4" y="156.6" font-size="7.4" font-weight="bold" textLength="96.4" lengthAdjust="spacingAndGlyphs"><tspan font-style="italic">r</tspan> = -0.4876 / <tspan font-style="italic">p</tspan> value=0.0001</text>
<text x="443.8" y="269.7" font-size="7.6" font-weight="bold" text-anchor="middle">L-S HU</text>
<text transform="translate(360.6,194.2) rotate(-90)" font-size="8.0" font-weight="bold" text-anchor="middle" font-style="italic">NAS</text>
<line x1="410.1" y1="204.2" x2="477.1" y2="225.8" class="rl"/>
<circle cx="408.3" cy="195.8" r="2.2"/>
<circle cx="424.9" cy="195.8" r="2.2"/>
<circle cx="438.2" cy="195.8" r="2.2"/>
<circle cx="441.2" cy="195.8" r="2.2"/>
<circle cx="410.6" cy="205.0" r="2.2"/>
<circle cx="422.0" cy="205.0" r="2.2"/>
<circle cx="424.0" cy="205.0" r="2.2"/>
<circle cx="426.0" cy="205.0" r="2.2"/>
<circle cx="437.3" cy="205.0" r="2.2"/>
<circle cx="452.2" cy="205.0" r="2.2"/>
<circle cx="460.5" cy="205.0" r="2.2"/>
<circle cx="416.6" cy="213.8" r="2.2"/>
<circle cx="424.9" cy="213.8" r="2.2"/>
<circle cx="438.0" cy="213.8" r="2.2"/>
<circle cx="441.3" cy="213.8" r="2.2"/>
<circle cx="447.7" cy="213.8" r="2.2"/>
<circle cx="450.5" cy="213.8" r="2.2"/>
<circle cx="453.5" cy="213.8" r="2.2"/>
<circle cx="456.5" cy="213.8" r="2.2"/>
<circle cx="459.5" cy="213.8" r="2.2"/>
<circle cx="462.5" cy="213.8" r="2.2"/>
<circle cx="465.3" cy="213.8" r="2.2"/>
<circle cx="470.4" cy="213.8" r="2.2"/>
<circle cx="424.3" cy="222.8" r="2.2"/>
<circle cx="439.1" cy="222.8" r="2.2"/>
<circle cx="444.7" cy="222.8" r="2.2"/>
<circle cx="447.8" cy="222.8" r="2.2"/>
<circle cx="455.5" cy="222.8" r="2.2"/>
<circle cx="458.5" cy="222.8" r="2.2"/>
<circle cx="462.5" cy="222.8" r="2.2"/>
<circle cx="475.2" cy="222.8" r="2.2"/>
<circle cx="477.6" cy="222.8" r="2.2"/>
<circle cx="434.6" cy="232.0" r="2.2"/>
<circle cx="448.4" cy="232.0" r="2.2"/>
<circle cx="451.0" cy="232.0" r="2.2"/>
<circle cx="455.0" cy="232.0" r="2.2"/>
<circle cx="458.0" cy="232.0" r="2.2"/>
<circle cx="462.2" cy="232.0" r="2.2"/>
<text x="524.6" y="140.3" font-size="15.0" font-weight="bold">H</text>
<line x1="552.4" y1="149.7" x2="552.4" y2="241.3" stroke="#111" stroke-width="1.1"/>
<line x1="550.0" y1="195.5" x2="552.4" y2="195.5" stroke="#222" stroke-width="1.1"/>
<text x="548.5" y="197.8" font-size="7.2" text-anchor="end" font-weight="bold" class="tk">5</text>
<line x1="550.0" y1="150.2" x2="552.4" y2="150.2" stroke="#222" stroke-width="1.1"/>
<text x="548.5" y="152.5" font-size="7.2" text-anchor="end" font-weight="bold" class="tk">10</text>
<line x1="545.9" y1="240.8" x2="681.1" y2="240.8" stroke="#555" stroke-width="1.1"/>
<line x1="546.4" y1="240.8" x2="546.4" y2="243.2" class="ax"/>
<text transform="translate(548.7,249.6) rotate(-45)" font-size="7.2" text-anchor="end" font-weight="bold" class="tk">-50</text>
<line x1="580.0" y1="240.8" x2="580.0" y2="243.2" class="ax"/>
<text transform="translate(582.2,249.6) rotate(-45)" font-size="7.2" text-anchor="end" font-weight="bold" class="tk">0</text>
<line x1="613.5" y1="240.8" x2="613.5" y2="243.2" class="ax"/>
<text transform="translate(615.8,249.6) rotate(-45)" font-size="7.2" text-anchor="end" font-weight="bold" class="tk">50</text>
<line x1="647.0" y1="240.8" x2="647.0" y2="243.2" class="ax"/>
<text transform="translate(649.3,249.6) rotate(-45)" font-size="7.2" text-anchor="end" font-weight="bold" class="tk">100</text>
<line x1="680.6" y1="240.8" x2="680.6" y2="243.2" class="ax"/>
<text transform="translate(682.9,249.6) rotate(-45)" font-size="7.2" text-anchor="end" font-weight="bold" class="tk">150</text>
<text x="565.3" y="156.6" font-size="7.4" font-weight="bold" textLength="94.6" lengthAdjust="spacingAndGlyphs"><tspan font-style="italic">r</tspan> = 0.3556 / <tspan font-style="italic">p</tspan> value=0.0225</text>
<text x="613.3" y="270.1" font-size="7.6" font-weight="bold" text-anchor="middle">FLI</text>
<text transform="translate(530.0,193.8) rotate(-90)" font-size="8.0" font-weight="bold" text-anchor="middle" font-style="italic">NAS</text>
<line x1="588.0" y1="222.3" x2="644.1" y2="207.9" class="rl"/>
<circle cx="621.2" cy="195.7" r="2.2"/>
<circle cx="624.5" cy="195.7" r="2.2"/>
<circle cx="628.7" cy="195.7" r="2.2"/>
<circle cx="637.3" cy="195.7" r="2.2"/>
<circle cx="643.8" cy="195.7" r="2.2"/>
<circle cx="607.0" cy="204.6" r="2.2"/>
<circle cx="617.4" cy="204.6" r="2.2"/>
<circle cx="621.6" cy="204.6" r="2.2"/>
<circle cx="630.1" cy="204.6" r="2.2"/>
<circle cx="631.6" cy="204.6" r="2.2"/>
<circle cx="639.9" cy="204.6" r="2.2"/>
<circle cx="593.6" cy="213.5" r="2.2"/>
<circle cx="597.0" cy="213.5" r="2.2"/>
<circle cx="608.7" cy="213.5" r="2.2"/>
<circle cx="611.5" cy="213.5" r="2.2"/>
<circle cx="614.5" cy="213.5" r="2.2"/>
<circle cx="617.5" cy="213.5" r="2.2"/>
<circle cx="620.5" cy="213.5" r="2.2"/>
<circle cx="623.5" cy="213.5" r="2.2"/>
<circle cx="626.5" cy="213.5" r="2.2"/>
<circle cx="629.2" cy="213.5" r="2.2"/>
<circle cx="643.2" cy="213.5" r="2.2"/>
<circle cx="583.8" cy="222.7" r="2.2"/>
<circle cx="589.1" cy="222.7" r="2.2"/>
<circle cx="600.0" cy="222.7" r="2.2"/>
<circle cx="611.0" cy="222.7" r="2.2"/>
<circle cx="612.6" cy="222.7" r="2.2"/>
<circle cx="621.6" cy="222.7" r="2.2"/>
<circle cx="626.5" cy="222.7" r="2.2"/>
<circle cx="641.7" cy="222.7" r="2.2"/>
<circle cx="591.8" cy="231.6" r="2.2"/>
<circle cx="596.8" cy="231.6" r="2.2"/>
<circle cx="608.7" cy="231.6" r="2.2"/>
<circle cx="613.2" cy="231.6" r="2.2"/>
<circle cx="623.1" cy="231.6" r="2.2"/>
<circle cx="626.5" cy="231.6" r="2.2"/>
<circle cx="636.8" cy="231.6" r="2.2"/>
</svg>
</body></html>
